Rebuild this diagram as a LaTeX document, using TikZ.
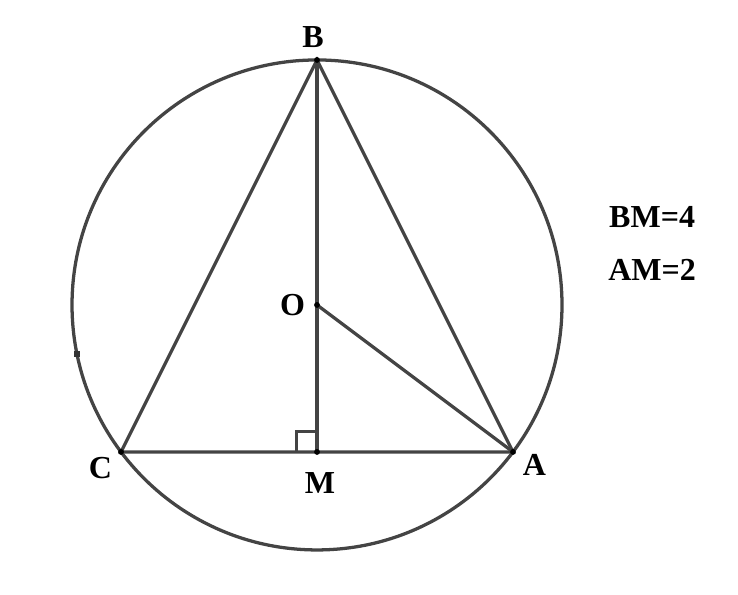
\documentclass[tikz,border=0pt]{standalone}
\usepackage{fontspec}
\setmainfont{Liberation Serif}
\usetikzlibrary{positioning,calc}
\definecolor{segline}{HTML}{444444}
\tikzset{
  seg/.style={draw=segline, line width=0.95pt},
  ptdot/.style={circle, fill=black, inner sep=0pt, minimum size=1.7pt},
  lbl/.style={font=\fontsize{9.3}{11}\selectfont\bfseries, inner sep=1pt},
}
\begin{document}
\begin{tikzpicture}[x=1cm,y=1cm]
\useasboundingbox (-3.235,-1.459) rectangle (4.296,4.612);
\coordinate (M) at (0,0);
\coordinate (O) at (0,1.5);
\coordinate (B) at (0,4);
\coordinate (A) at (2,0);
\coordinate (C) at (-2,0);
\coordinate (P) at ($(O)+(191.5:2.5)$);
% circle and triangle
\draw[seg] (O) circle (2.5);
\draw[seg] (C) -- (B) -- (A) -- cycle;
\draw[seg] (B) -- (M);
\draw[seg] (O) -- (A);
% right angle at M
\draw[seg] ($(M)+(-0.21,0)$) -- ++(0,0.21) -- ++(0.21,0);
% points
\foreach \p in {O,B,A,C,M} \node[ptdot] at (\p) {};
\node[rectangle, fill=black!80, inner sep=0pt, minimum size=1.8pt] at (P) {};
% labels
\node[lbl] (labB) at (-0.04,4.23) {B};
\node[lbl] (labO) at (-0.25,1.5) {O};
\node[lbl] (labC) at (-2.21,-0.16) {C};
\node[lbl] (labM) at (0.03,-0.32) {M};
\node[lbl] (labA) at (2.22,-0.13) {A};
\node[lbl] (labBM) at (3.42,2.4) {BM=4};
\node[lbl] (labAM) at (3.42,1.86) {AM=2};
\end{tikzpicture}
\end{document}
